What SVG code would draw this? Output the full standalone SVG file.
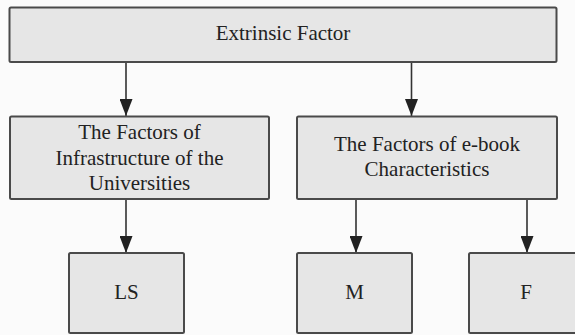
<svg xmlns="http://www.w3.org/2000/svg" width="575" height="335" viewBox="0 0 575 335">
<defs>
<style>
.box{fill:#e6e6e6;stroke:#4a4a4a;stroke-width:2}
.t{font-family:'Liberation Serif','DejaVu Serif',serif;font-size:21px;fill:#222;text-anchor:middle}
.c{stroke:#333;stroke-width:1.6;fill:none;marker-end:url(#ah)}
</style>
<marker id="ah" markerUnits="userSpaceOnUse" markerWidth="17" markerHeight="13" refX="17" refY="6.5" orient="auto" viewBox="0 0 17 13">
<path d="M0,0 L17,6.5 L0,13 Z" fill="#222"/>
</marker>
</defs>
<rect width="575" height="335" fill="#fbfbfb"/>
<g id="connectors">
<line class="c" x1="126" y1="62" x2="126" y2="116"/>
<line class="c" x1="411.5" y1="62" x2="411.5" y2="116"/>
<line class="c" x1="126" y1="199" x2="126" y2="253"/>
<line class="c" x1="356" y1="199" x2="356" y2="253"/>
<line class="c" x1="527" y1="199" x2="527" y2="253"/>
</g>
<g id="extrinsic">
<rect class="box" x="9.5" y="7.5" width="547" height="54.5" rx="1.5"/>
<text class="t" font-family="Liberation Serif, serif" x="283" y="40">Extrinsic Factor</text>
</g>
<g id="infrastructure">
<rect class="box" x="10" y="116.5" width="259" height="82.5" rx="1.5"/>
<text class="t" font-family="Liberation Serif, serif" x="139.5" y="139">The Factors of</text>
<text class="t" font-family="Liberation Serif, serif" x="139.5" y="165">Infrastructure of the</text>
<text class="t" font-family="Liberation Serif, serif" x="139.5" y="190">Universities</text>
</g>
<g id="ebook">
<rect class="box" x="297" y="116.5" width="260" height="82.5" rx="1.5"/>
<text class="t" font-family="Liberation Serif, serif" x="427" y="151">The Factors of e-book</text>
<text class="t" font-family="Liberation Serif, serif" x="427" y="176">Characteristics</text>
</g>
<g id="ls">
<rect class="box" x="69" y="253" width="115" height="80" rx="1.5"/>
<text class="t" font-family="Liberation Serif, serif" x="126.5" y="299">LS</text>
</g>
<g id="m">
<rect class="box" x="297" y="253" width="115" height="80" rx="1.5"/>
<text class="t" font-family="Liberation Serif, serif" x="354.5" y="299">M</text>
</g>
<g id="f">
<rect class="box" x="469" y="253" width="116" height="80" rx="1.5"/>
<text class="t" font-family="Liberation Serif, serif" x="526" y="299">F</text>
</g>
</svg>
